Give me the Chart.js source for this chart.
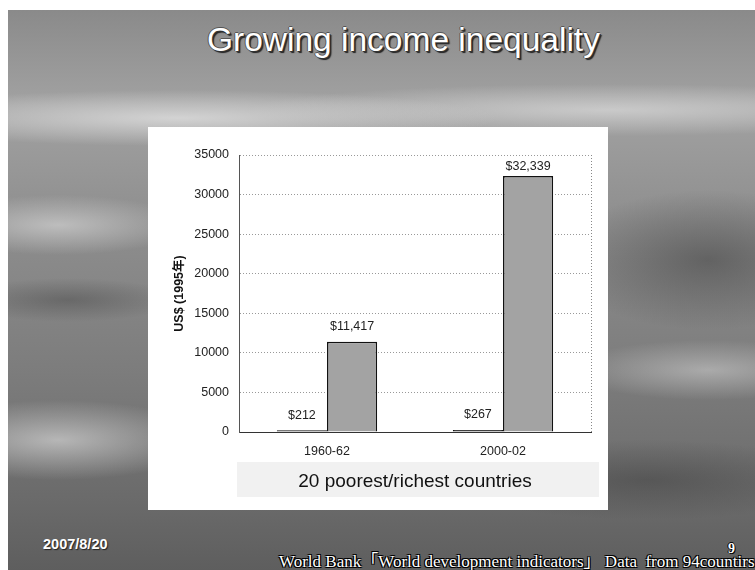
<!DOCTYPE html>
<html>
<head>
<meta charset="utf-8">
<script src="https://cdn.jsdelivr.net/npm/chart.js@4/dist/chart.umd.min.js"></script>
<style>
  body { margin: 0; width: 755px; height: 570px; position: relative; background: #fff; overflow: hidden; }
  .slide {
    position: absolute; left: 8px; top: 10px; width: 747px; height: 560px;
    background:
      radial-gradient(ellipse 320px 28px at 170px 108px, rgba(220,220,220,.85), rgba(220,220,220,0)),
      radial-gradient(ellipse 360px 26px at 600px 100px, rgba(215,215,215,.75), rgba(215,215,215,0)),
      radial-gradient(ellipse 130px 30px at 50px 215px, rgba(205,205,205,.75), rgba(205,205,205,0)),
      radial-gradient(ellipse 110px 22px at 60px 290px, rgba(70,70,70,.45), rgba(70,70,70,0)),
      radial-gradient(ellipse 150px 40px at 50px 430px, rgba(205,205,205,.75), rgba(205,205,205,0)),
      radial-gradient(ellipse 140px 30px at 700px 360px, rgba(195,195,195,.65), rgba(195,195,195,0)),
      radial-gradient(ellipse 150px 70px at 700px 250px, rgba(60,60,60,.5), rgba(60,60,60,0)),
      radial-gradient(ellipse 200px 40px at 640px 470px, rgba(60,60,60,.45), rgba(60,60,60,0)),
      linear-gradient(180deg, #8a8a8a 0%, #a2a2a2 17%, #8e8e8e 38%, #7c7c7c 65%, #6a6a6a 88%, #5e5e5e 100%);
  }
  .title {
    position: absolute; left: 207px; top: 23px; font: 33.5px/33px "Liberation Sans", Arial, sans-serif;
    color: #fff; white-space: nowrap;
    text-shadow: 1px 1px 0 #333, 2px 2px 1px #222, -1px 0 0 #555, 0 -1px 0 #555;
  }
  .panel { position: absolute; left: 148px; top: 127px; width: 460px; height: 383px; background: #fff; }
  .date {
    position: absolute; left: 43px; top: 536px; font: bold 14.5px/16px "Liberation Sans", Arial, sans-serif;
    color: #fff; text-shadow: 1px 1px 1px #222;
  }
  .page {
    position: absolute; left: 728px; top: 542px; font: bold 14px/14px "Liberation Serif", "Times New Roman", serif;
    color: #fff; text-shadow: 1px 1px 0 #000, -1px 0 0 #000, 0 -1px 0 #000;
  }
  .source {
    position: absolute; left: 279px; top: 553px; font: 17px/17px "Liberation Serif", "Times New Roman", "Noto Sans CJK JP", serif;
    color: #fff; white-space: pre;
    text-shadow: 1px 1px 0 #000, -1px -1px 0 #000, 1px -1px 0 #000, -1px 1px 0 #000;
  }
</style>
</head>
<body>
<div class="slide"></div>
<div class="title">Growing income inequality</div>
<div class="panel"><canvas id="chart" width="460" height="383"></canvas></div>
<div class="date">2007/8/20</div>
<div class="page">9</div>
<div class="source">World Bank「World development indicators」 Data  from 94countirs</div>
<script>
const categories = ['1960-62', '2000-02'];
const poorest = [212, 267];
const richest = [11417, 32339];
const yMax = 35000;
const yStep = 5000;

const font = '"Liberation Sans", Arial, "Noto Sans CJK JP", sans-serif';

// light strip behind the x axis title
const titleBand = {
  id: 'titleBand',
  beforeDraw(chart) {
    const ctx = chart.ctx;
    ctx.save();
    ctx.fillStyle = '#f1f1f1';
    ctx.fillRect(89, 335, 362, 35);
    ctx.restore();
  }
};

// dotted right edge of the plot area
const plotEdge = {
  id: 'plotEdge',
  beforeDatasetsDraw(chart) {
    const { ctx, chartArea } = chart;
    ctx.save();
    ctx.strokeStyle = '#888';
    ctx.lineWidth = 1;
    ctx.setLineDash([1, 2]);
    ctx.beginPath();
    ctx.moveTo(chartArea.right + 0.5, chartArea.top);
    ctx.lineTo(chartArea.right + 0.5, chartArea.bottom);
    ctx.stroke();
    ctx.restore();
  }
};

// "$" value above each bar
const valueLabels = {
  id: 'valueLabels',
  afterDatasetsDraw(chart) {
    const { ctx, chartArea } = chart;
    ctx.save();
    ctx.font = '12.5px ' + font;
    ctx.fillStyle = '#222';
    ctx.textAlign = 'center';
    ctx.textBaseline = 'middle';
    chart.data.datasets.forEach((dataset, i) => {
      chart.getDatasetMeta(i).data.forEach((bar, j) => {
        const y = Math.max(bar.y - 15, chartArea.top + 12);
        ctx.fillText('$' + dataset.data[j].toLocaleString('en-US'), bar.x, y);
      });
    });
    ctx.restore();
  }
};

const ctx = document.getElementById('chart').getContext('2d');
new Chart(ctx, {
  type: 'bar',
  data: {
    labels: categories,
    datasets: [
      {
        label: 'poorest',
        data: poorest,
        backgroundColor: '#222',
        borderColor: '#111',
        borderWidth: 1.5
      },
      {
        label: 'richest',
        data: richest,
        backgroundColor: '#a3a3a3',
        borderColor: '#111',
        borderWidth: 1.5
      }
    ]
  },
  options: {
    responsive: false,
    animation: false,
    layout: { padding: { top: 28, right: 17, left: 0, bottom: 0 } },
    datasets: { bar: { categoryPercentage: 0.57, barPercentage: 1 } },
    plugins: { legend: { display: false }, tooltip: { enabled: false } },
    scales: {
      x: {
        grid: { display: false, drawTicks: false },
        border: { display: true, color: '#333', width: 1 },
        ticks: { color: '#222', font: { size: 12.5, family: font }, padding: 12 },
        title: {
          display: true,
          text: '20 poorest/richest countries',
          color: '#111',
          font: { size: 19, family: font },
          padding: { top: 4, bottom: 17 }
        },
        afterFit: (scale) => { scale.height = 78; }
      },
      y: {
        min: 0,
        max: yMax,
        grid: { color: '#999', drawTicks: false },
        border: { display: true, color: '#555', dash: [1, 2] },
        ticks: {
          stepSize: yStep,
          color: '#222',
          font: { size: 12.5, family: font },
          padding: 10,
          callback: (value) => String(value)
        },
        title: {
          display: true,
          text: 'US$ (1995年)',
          color: '#111',
          font: { size: 12.5, weight: 'bold', family: font },
          padding: { top: 24, bottom: 4 }
        },
        afterFit: (scale) => { scale.width = 91; }
      }
    }
  },
  plugins: [titleBand, plotEdge, valueLabels]
});
</script>
</body>
</html>
